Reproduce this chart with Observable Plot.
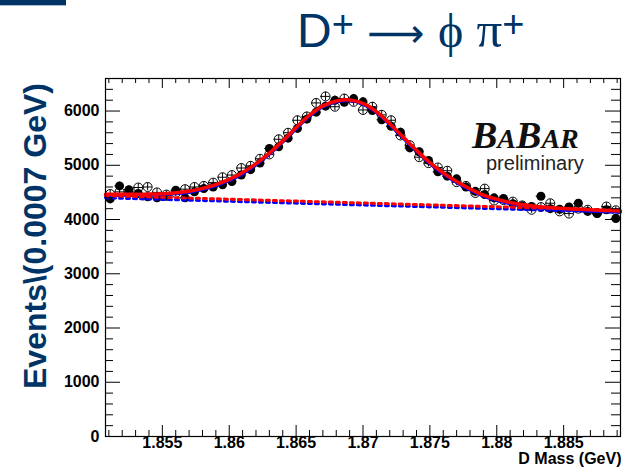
<!DOCTYPE html>
<html><head><meta charset="utf-8">
<script src="https://cdn.jsdelivr.net/npm/d3@7"></script>
<script src="https://cdn.jsdelivr.net/npm/@observablehq/plot@0.6"></script>
<style>
body{margin:0;background:#fff;font-family:"Liberation Sans",Arial,sans-serif;}
#wrap{position:relative;width:625px;height:475px;overflow:hidden;background:#fff;}
#bar{position:absolute;left:0;top:0;width:66px;height:5px;background:#003366;border-bottom:1px solid #a9bccf;}
#title{position:absolute;left:297px;top:-5px;line-height:58px;font-size:48px;color:#003366;white-space:nowrap;}
#title .sup{font-size:38px;vertical-align:10px;}
#title .ser{font-family:"Liberation Serif","Times New Roman",serif;}
#title .arr{font-family:"DejaVu Sans",sans-serif;font-size:40px;}
#title .pi{font-family:"Liberation Serif","Times New Roman",serif;font-size:51px;}
#chart{position:absolute;left:0;top:60px;}
#ylab{position:absolute;left:35px;top:236px;transform:translate(-50%,-50%) rotate(-90deg);font-size:32px;font-weight:bold;color:#003366;white-space:nowrap;line-height:32px;}
#logo{position:absolute;left:472px;top:123px;line-height:24px;font-family:"Liberation Serif","Times New Roman",serif;font-style:italic;font-weight:bold;color:#111;white-space:nowrap;}
#logo .big{font-size:38px;}
#logo .sm{font-size:28px;}
#prelim{position:absolute;left:486px;top:155px;line-height:16px;font-size:20px;color:#222;white-space:nowrap;}
</style></head>
<body>
<div id="wrap">
  <div id="bar"></div>
  <div id="title">D<span class="sup">+</span> <span class="arr">⟶</span> <span class="ser">ϕ</span> <span class="pi">π</span><span class="sup">+</span></div>
  <div id="chart"></div>
  <div id="ylab">Events\(0.0007 GeV)</div>
  <div id="logo"><span class="big">B</span><span class="sm">A</span><span class="big">B</span><span class="sm">AR</span></div>
  <div id="prelim">preliminary</div>
</div>
<script>
// ---- data ----
const binCenters = [1.8511,1.8518,1.8525,1.8532,1.8539,1.8546,1.8553,1.8560,1.8567,1.8574,
  1.8581,1.8588,1.8595,1.8602,1.8609,1.8616,1.8623,1.8630,1.8637,1.8644,
  1.8651,1.8658,1.8665,1.8672,1.8679,1.8686,1.8693,1.8700,1.8707,1.8714,
  1.8721,1.8728,1.8735,1.8742,1.8749,1.8756,1.8763,1.8770,1.8777,1.8784,
  1.8791,1.8798,1.8805,1.8812,1.8819,1.8826,1.8833,1.8840,1.8847,1.8854,
  1.8861,1.8868,1.8875,1.8882,1.8889];
const filledCounts = [4380,4620,4550,4480,4420,4400,4430,4540,4400,4510,
  4570,4600,4640,4700,4820,4920,5040,5310,5340,5500,
  5680,5850,5980,6090,6200,6160,6230,6170,6010,5840,
  5720,5610,5320,5250,5090,4880,4800,4750,4600,4520,
  4460,4400,4390,4290,4250,4240,4430,4200,4190,4230,
  4300,4150,4110,4180,4020];
const openCounts = [4470,4510,4490,4590,4600,4500,4460,4490,4560,4600,
  4620,4680,4780,4820,4950,4990,5120,5200,5480,5600,
  5830,5900,6150,6270,6080,6230,6170,6020,6080,5930,
  5830,5550,5370,5150,5040,4960,4900,4690,4620,4490,
  4570,4350,4360,4330,4260,4180,4230,4300,4150,4110,
  4200,4180,4120,4240,4170];
const binHalfWidth = 0.00035;

const fitMass = [1.85075,1.852,1.853,1.854,1.855,1.856,1.857,1.858,1.859,1.860,
  1.861,1.862,1.863,1.864,1.865,1.866,1.867,1.868,1.869,1.870,
  1.871,1.872,1.873,1.874,1.875,1.876,1.877,1.878,1.879,1.880,
  1.881,1.882,1.883,1.884,1.885,1.886,1.887,1.888,1.889,1.88925];
const redFit = [4465,4465,4466,4468,4475,4495,4522,4575,4645,4740,
  4865,5030,5225,5450,5695,5925,6095,6185,6205,6140,
  5990,5765,5520,5275,5050,4860,4700,4565,4450,4375,
  4315,4272,4242,4220,4203,4190,4178,4168,4160,4158];
const blueFit = [4445,4445,4446,4448,4455,4474,4500,4552,4622,4716,
  4840,5005,5200,5425,5672,5902,6074,6166,6188,6124,
  5972,5745,5500,5254,5028,4838,4678,4543,4428,4352,
  4292,4249,4219,4197,4180,4167,4155,4145,4137,4135];
const bgMass = [1.85075, 1.88925];
const redBg = [4440, 4170];
const blueBg = [4400, 4135];

const xTickValues = [1.855,1.86,1.865,1.87,1.875,1.88,1.885];
const xTickLabels = ["1.855","1.86","1.865","1.87","1.875","1.88","1.885"];
const yTickValues = [0,1000,2000,3000,4000,5000,6000];
const yTickLabels = ["0","1000","2000","3000","4000","5000","6000"];
const xMinorTicks = [1.851,1.852,1.853,1.854,1.856,1.857,1.858,1.859,1.861,1.862,1.863,1.864,
  1.866,1.867,1.868,1.869,1.871,1.872,1.873,1.874,1.876,1.877,1.878,1.879,
  1.881,1.882,1.883,1.884,1.886,1.887,1.888,1.889];
const yMinorTicks = [200,400,600,800,1200,1400,1600,1800,2200,2400,2600,2800,3200,3400,3600,3800,
  4200,4400,4600,4800,5200,5400,5600,5800,6200,6400];

const xLabel = "D Mass (GeV)";

// ---- build tables ----
const filled = binCenters.map((x, i) => ({x, y: filledCounts[i]}));
const open = binCenters.map((x, i) => ({x, y: openCounts[i]}));
const red = fitMass.map((x, i) => ({x, y: redFit[i]}));
const blue = fitMass.map((x, i) => ({x, y: blueFit[i]}));
const redB = bgMass.map((x, i) => ({x, y: redBg[i]}));
const blueB = bgMass.map((x, i) => ({x, y: blueBg[i]}));
const xT = xTickValues.map((v, i) => ({v, t: xTickLabels[i]}));
const yT = yTickValues.map((v, i) => ({v, t: yTickLabels[i]}));

const W = 625, H = 415, mL = 105, mR = 5, mT = 18, mB = 39;
const fw = W - mL - mR, fh = H - mT - mB;
const font = {fontSize: 16, fontWeight: "bold", fill: "black", fontFamily: "Liberation Sans, Arial, sans-serif"};

const errMarks = (data) => [
  Plot.ruleX(data, {x: "x", y1: d => d.y - Math.sqrt(d.y), y2: d => d.y + Math.sqrt(d.y), stroke: "black", strokeWidth: 1}),
  Plot.ruleY(data, {y: "y", x1: d => d.x - binHalfWidth, x2: d => d.x + binHalfWidth, stroke: "black", strokeWidth: 1})
];

const chart = Plot.plot({
  width: W, height: H,
  marginLeft: mL, marginRight: mR, marginTop: mT, marginBottom: mB,
  x: {domain: [1.85075, 1.88925], axis: null},
  y: {domain: [0, 6600], axis: null},
  style: {background: "white", fontFamily: "Liberation Sans, Arial, sans-serif", overflow: "visible"},
  marks: [
    // data
    ...errMarks(filled),
    Plot.dot(filled, {x: "x", y: "y", r: 4.5, fill: "black", stroke: "none"}),
    ...errMarks(open),
    Plot.dot(open, {x: "x", y: "y", r: 4.5, fill: "none", stroke: "black", strokeWidth: 1}),
    // fits
    Plot.line(blue, {x: "x", y: "y", stroke: "#0000ff", strokeWidth: 3, curve: "catmull-rom"}),
    Plot.line(blueB, {x: "x", y: "y", stroke: "#0000ff", strokeWidth: 3, strokeDasharray: "3,4"}),
    Plot.line(redB, {x: "x", y: "y", stroke: "#ff0000", strokeWidth: 3, strokeDasharray: "3,4"}),
    Plot.line(red, {x: "x", y: "y", stroke: "#ff0000", strokeWidth: 3.5, curve: "catmull-rom"}),
    // frame and ticks
    Plot.frame({stroke: "black", strokeWidth: 1.2}),
    Plot.ruleX(xTickValues, {x: d => d, insetTop: fh - 11, stroke: "black"}),
    Plot.ruleX(xMinorTicks, {x: d => d, insetTop: fh - 6, stroke: "black"}),
    Plot.ruleX(xTickValues, {x: d => d, insetBottom: fh - 10, stroke: "black"}),
    Plot.ruleX(xMinorTicks, {x: d => d, insetBottom: fh - 5, stroke: "black"}),
    Plot.ruleY(yTickValues, {y: d => d, insetRight: fw - 15, stroke: "black"}),
    Plot.ruleY(yMinorTicks, {y: d => d, insetRight: fw - 8, stroke: "black"}),
    Plot.ruleY(yTickValues, {y: d => d, insetLeft: fw - 15, stroke: "black"}),
    Plot.ruleY(yMinorTicks, {y: d => d, insetLeft: fw - 9, stroke: "black"}),
    // tick labels
    Plot.text(xT, {x: "v", text: "t", frameAnchor: "bottom", dy: 11, ...font}),
    Plot.text(yT, {y: "v", text: "t", frameAnchor: "left", dx: -6, textAnchor: "end", ...font}),
    // axis label
    Plot.text([xLabel], {text: d => d, frameAnchor: "bottom-right", textAnchor: "end", dy: 27, dx: 1, ...font})
  ]
});
document.getElementById("chart").appendChild(chart);
</script>
</body></html>
